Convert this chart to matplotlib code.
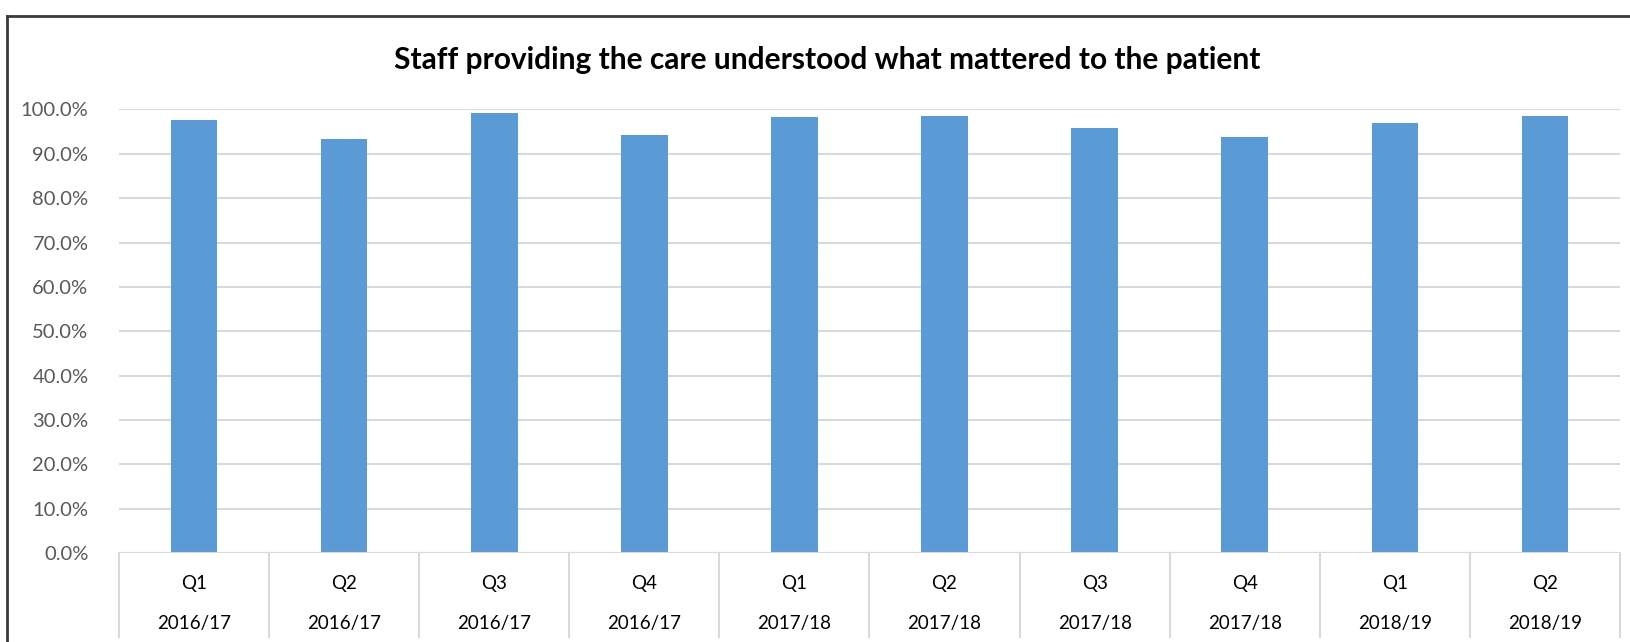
import matplotlib
matplotlib.use("Agg")
import matplotlib.pyplot as plt
import matplotlib.transforms as mtransforms
from matplotlib.lines import Line2D
from matplotlib.ticker import FuncFormatter

title = "Staff providing the care understood what mattered to the patient"
quarters = ["Q1", "Q2", "Q3", "Q4", "Q1", "Q2", "Q3", "Q4", "Q1", "Q2"]
years = ["2016/17", "2016/17", "2016/17", "2016/17", "2017/18",
         "2017/18", "2017/18", "2017/18", "2018/19", "2018/19"]
values = [0.976, 0.932, 0.991, 0.942, 0.982, 0.986, 0.959, 0.937, 0.969, 0.986]
yticks = [0.0, 0.1, 0.2, 0.3, 0.4, 0.5, 0.6, 0.7, 0.8, 0.9, 1.0]

W, H = 1631, 642
fig = plt.figure(figsize=(W / 100, H / 100), dpi=100)
fig.patch.set_facecolor("white")

left_px, right_px = 119, 1620
top_px, bottom_px = 109.3, 553.3
ax = fig.add_axes([left_px / W, (H - bottom_px) / H,
                   (right_px - left_px) / W, (bottom_px - top_px) / H])

n = len(values)
xs = list(range(n))
ax.bar(xs, values, width=0.31, color="#5B9BD5", zorder=3)
ax.set_xlim(-0.5, n - 0.5)
ax.set_ylim(0, 1.0)
ax.set_yticks(yticks)
ax.yaxis.set_major_formatter(FuncFormatter(lambda v, p: f"{v*100:.1f}%"))
ax.tick_params(axis="y", length=0, pad=22, labelsize=14.5, labelcolor="#595959")
for lbl in ax.get_yticklabels():
    lbl.set_family("Lato")
ax.set_xticks([])
for s in ax.spines.values():
    s.set_visible(False)
ax.grid(axis="y", color="#d9d9d9", linewidth=1.5, zorder=0)
ax.axhline(0, color="#d9d9d9", linewidth=1.5, zorder=4)

trans = mtransforms.blended_transform_factory(ax.transData, ax.transAxes)
axh = bottom_px - top_px
for i in range(n + 1):
    ax.plot([i - 0.5, i - 0.5], [0, -(637 - bottom_px) / axh], transform=trans,
            color="#d9d9d9", linewidth=1.5, clip_on=False)
for i, (q, yr) in enumerate(zip(quarters, years)):
    ax.text(i, -(583 - bottom_px) / axh, q, transform=trans, ha="center", va="center",
            fontsize=13.5, family="Lato", color="#000000")
    ax.text(i, -(623 - bottom_px) / axh, yr, transform=trans, ha="center", va="center",
            fontsize=13.5, family="Lato", color="#000000")

fig.text(827 / W, 1 - 60 / H, title, ha="center", va="center",
         fontsize=21.5, fontweight="bold", family="Lato", color="#000000")

# outer chart border (top and left visible)
fig.add_artist(Line2D([7 / W, 7 / W], [0, 1 - 16 / H], transform=fig.transFigure,
                      color="#3a3a3a", linewidth=2))
fig.add_artist(Line2D([7 / W, 1], [1 - 16 / H, 1 - 16 / H], transform=fig.transFigure,
                      color="#3a3a3a", linewidth=2))

fig.savefig("out.png", dpi=100)
